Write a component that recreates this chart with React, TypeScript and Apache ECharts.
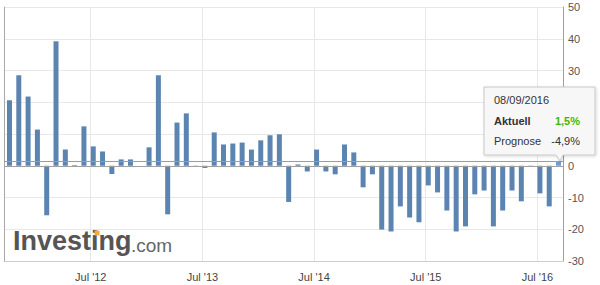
import React, { useEffect, useRef } from "react";
import * as echarts from "echarts";

// Monthly releases, first one in October 2011 (released around the 8th of each month)
const firstReleaseYear = 2011;
const firstReleaseMonth = 10;
const releaseDayFraction = 0.27;

const values: (number | null)[] = [
  20.6, 28.5, 21.8, 11.4, -15.6, 39.2, 5.1, 0.2, 12.4, 6.1,
  4.5, -2.6, 2.0, 2.0, null, 5.8, 28.5, -15.3, 13.6, 16.5,
  -0.4, -0.7, 10.5, 6.7, 7.0, 7.3, 5.1, 8.0, 9.6, 9.9,
  -11.4, 0.4, -1.8, 5.1, -1.8, -2.7, 6.7, 4.2, -6.8, -2.7,
  -20.1, -20.7, -12.8, -16.3, -17.8, -6.2, -8.4, -14.1, -20.7, -19.1,
  -9.0, -7.8, -19.1, -14.1, -7.8, -11.2, -0.3, -8.7, -12.8, 1.5,
];

const tickYears = [2012, 2013, 2014, 2015, 2016];
const tickLabels = ["Jul '12", "Jul '13", "Jul '14", "Jul '15", "Jul '16"];

const yMin = -30;
const yMax = 50;
// y labels hidden behind the tooltip box in the reference
const yLabelsHidden = [10, 20];

const tooltipDate = "08/09/2016";
const actualLabel = "Aktuell";
const actualValue = 1.5;
const forecastLabel = "Prognose";
const forecastValue = -4.9;

// months since 1 July 2011
const monthPos = (year: number, month: number) => (year - 2011) * 12 + (month - 7);

const fmtPct = (v: number) => v.toFixed(1).replace(".", ",") + "%";

export default function App() {
  const ref = useRef<HTMLDivElement>(null);
  useEffect(() => {
    if (!ref.current) return;
    const chart = echarts.init(ref.current, undefined, { renderer: "svg" });
    const start = monthPos(firstReleaseYear, firstReleaseMonth) + releaseDayFraction;
    const tickX = tickYears.map((y) => monthPos(y, 7));
    const font = "'Liberation Sans', Arial, sans-serif";
    const data = values.map((v, i) => {
      if (i === values.length - 1) {
        return { value: [start + i, v], itemStyle: { color: "#6f9bd1" } };
      }
      return { value: [start + i, v] };
    });
    chart.setOption({
      animation: false,
      backgroundColor: "#ffffff",
      grid: { left: 4, right: 37, top: 7, bottom: 24, containLabel: false },
      xAxis: {
        type: "value",
        min: 2.68,
        max: 62.75,
        axisLine: { show: true, onZero: false, lineStyle: { color: "#c0d0e0", width: 1 } },
        axisTick: { show: false, customValues: tickX },
        axisLabel: {
          customValues: tickX,
          color: "#444",
          fontSize: 11,
          fontFamily: font,
          margin: 10,
          formatter: (v: number) => {
            const idx = tickX.findIndex((t) => Math.abs(t - v) < 0.01);
            return idx >= 0 ? tickLabels[idx] : "";
          },
        },
        splitLine: { show: true, lineStyle: { color: "#e8e8e8", width: 1 } },
      },
      yAxis: [
        {
          type: "value",
          position: "right",
          min: yMin,
          max: yMax,
          interval: 10,
          axisLine: { show: true, lineStyle: { color: "#a0a0a0", width: 1 } },
          axisTick: { show: false },
          axisLabel: {
            color: "#555",
            fontSize: 11,
            fontFamily: font,
            margin: 5,
            formatter: (v: number) => (yLabelsHidden.includes(v) ? "" : String(v)),
          },
          splitLine: { show: true, lineStyle: { color: "#e8e8e8", width: 1 } },
        },
        {
          type: "value",
          position: "left",
          min: yMin,
          max: yMax,
          interval: 10,
          axisLine: { show: true, lineStyle: { color: "#a8a8a8", width: 1 } },
          axisTick: { show: false },
          axisLabel: { show: false },
          splitLine: { show: false },
        },
      ],
      series: [
        {
          type: "bar",
          yAxisIndex: 0,
          barWidth: 5,
          itemStyle: { color: "#5b84b1" },
          data,
          markLine: {
            silent: true,
            symbol: "none",
            label: { show: false },
            data: [
              { yAxis: 0, lineStyle: { color: "#a0a0a0", width: 1, type: "solid" } },
              { yAxis: actualValue, lineStyle: { color: "#72a7db", width: 1, type: "solid" } },
            ],
          },
        },
      ],
      graphic: [
        {
          type: "text",
          left: 13,
          top: 227,
          z: 10,
          style: { text: "Investing", font: `bold 27px ${font}`, fill: "#555555" },
        },
        {
          type: "text",
          left: 131,
          top: 236,
          z: 10,
          style: { text: ".com", font: `19px ${font}`, fill: "#666666" },
        },
        {
          type: "rect",
          z: 11,
          shape: { x: 94.5, y: 230.5, width: 5, height: 5 },
          style: { fill: "#f4a93a" },
        },
        {
          type: "polygon",
          z: 20,
          shape: {
            points: [
              [484, 87],
              [595, 87],
              [595, 155],
              [563, 155],
              [560, 161],
              [556, 155],
              [484, 155],
            ],
          },
          style: {
            fill: "#f7f7f7",
            stroke: "#c8c8c8",
            lineWidth: 1,
            shadowBlur: 3,
            shadowOffsetX: 1,
            shadowOffsetY: 1,
            shadowColor: "rgba(0,0,0,0.15)",
          },
        },
        {
          type: "text",
          z: 21,
          x: 494,
          y: 100,
          style: { text: tooltipDate, font: `11px ${font}`, fill: "#333", verticalAlign: "middle" },
        },
        {
          type: "text",
          z: 21,
          x: 494,
          y: 121,
          style: { text: actualLabel, font: `bold 11px ${font}`, fill: "#333", verticalAlign: "middle" },
        },
        {
          type: "text",
          z: 21,
          x: 580,
          y: 121,
          style: {
            text: fmtPct(actualValue),
            font: `bold 11px ${font}`,
            fill: "#44b800",
            align: "right",
            verticalAlign: "middle",
          },
        },
        {
          type: "text",
          z: 21,
          x: 494,
          y: 141,
          style: { text: forecastLabel, font: `11px ${font}`, fill: "#333", verticalAlign: "middle" },
        },
        {
          type: "text",
          z: 21,
          x: 580,
          y: 141,
          style: {
            text: fmtPct(forecastValue),
            font: `11px ${font}`,
            fill: "#333",
            align: "right",
            verticalAlign: "middle",
          },
        },
      ],
    });
    return () => chart.dispose();
  }, []);
  return (
    <div
      ref={ref}
      style={{ position: "fixed", left: 0, top: 0, width: 600, height: 285, background: "#fff" }}
    />
  );
}
